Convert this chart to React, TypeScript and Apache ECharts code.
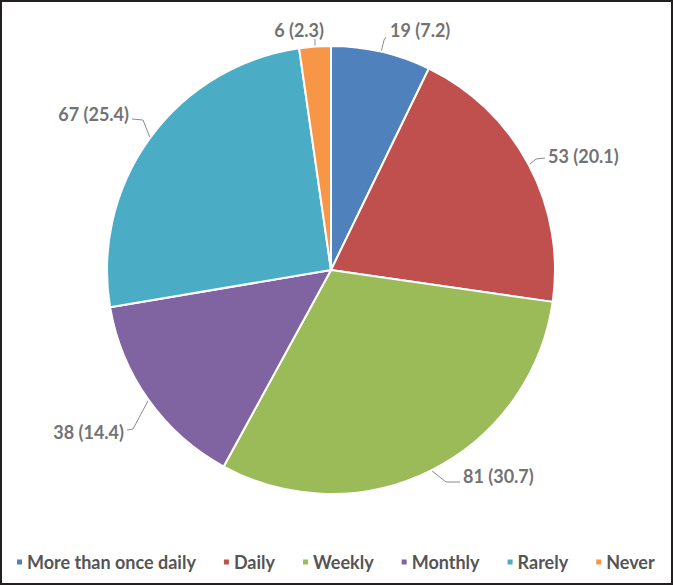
import React, { useEffect, useRef } from "react";
import * as echarts from "echarts";

const categories = ["More than once daily", "Daily", "Weekly", "Monthly", "Rarely", "Never"];
const counts = [19, 53, 81, 38, 67, 6];
const percents = [7.2, 20.1, 30.7, 14.4, 25.4, 2.3];
const colors = ["#4F81BD", "#C0504D", "#9BBB59", "#8064A2", "#4BACC6", "#F79646"];

// label layout (text anchor x, y, align) and leader bend points
const labelAnchors: [number, number, string][] = [
  [390, 30, "left"],
  [548, 156, "left"],
  [463, 476, "left"],
  [124, 432, "right"],
  [129, 114, "right"],
  [324, 30, "right"],
];
const leaderPoints: number[][][] = [
  [[384, 40], [386, 37]],
  [[536, 159], [545, 158]],
  [[446, 482], [460, 482]],
  [[133, 429], [127, 430]],
  [[143, 120], [132, 119]],
  [[315, 41], [315, 39]],
];

const CX = 331;
const CY = 270;
const R = 224;

export default function App() {
  const ref = useRef<HTMLDivElement>(null);
  useEffect(() => {
    if (!ref.current) return;
    const chart = echarts.init(ref.current, null, { renderer: "svg" });
    const total = counts.reduce((a, b) => a + b, 0);
    const midAngles: number[] = [];
    let acc = 0;
    counts.forEach((v) => {
      midAngles.push(((acc + v / 2) / total) * Math.PI * 2);
      acc += v;
    });
    chart.setOption({
      animation: false,
      color: colors,
      legend: {
        data: categories,
        left: 10,
        top: 548,
        icon: "rect",
        itemWidth: 7,
        itemHeight: 7,
        itemGap: 26,
        textStyle: {
          fontFamily: "Lato",
          fontWeight: "bold",
          fontSize: 18,
          color: "#555555",
          padding: [0, 0, 0, -1],
        },
      },
      series: [
        {
          type: "pie",
          center: [CX, CY],
          radius: R,
          startAngle: 90,
          clockwise: true,
          itemStyle: { borderColor: "#ffffff", borderWidth: 2 },
          label: {
            show: true,
            position: "outside",
            formatter: (p: any) => `${counts[p.dataIndex]} (${percents[p.dataIndex]})`,
            fontFamily: "Lato",
            fontWeight: "bold",
            fontSize: 18,
            color: "#737373",
          },
          labelLine: {
            show: true,
            length: 10,
            length2: 5,
            smooth: false,
            lineStyle: { color: "#8c8c8c", width: 1 },
          },
          labelLayout: (params: any) => {
            const i = params.dataIndex;
            const a = midAngles[i];
            const start = [CX + R * Math.sin(a), CY - R * Math.cos(a)];
            const [tx, ty, align] = labelAnchors[i];
            return {
              x: tx,
              y: ty,
              align,
              verticalAlign: "middle",
              labelLinePoints: [start, leaderPoints[i][0], leaderPoints[i][1]],
            };
          },
          emphasis: { disabled: true },
          data: categories.map((name, i) => ({ name, value: counts[i] })),
        },
      ],
    });
    return () => chart.dispose();
  }, []);
  return (
    <div
      style={{
        position: "absolute",
        left: 0,
        top: 0,
        width: 673,
        height: 585,
        background: "#ffffff",
      }}
    >
      <div ref={ref} style={{ position: "absolute", left: 0, top: 0, width: 673, height: 585 }} />
      <div
        style={{
          position: "absolute",
          left: 0,
          top: 0,
          width: 673,
          height: 585,
          boxSizing: "border-box",
          border: "2px solid #231f20",
          pointerEvents: "none",
        }}
      />
    </div>
  );
}
